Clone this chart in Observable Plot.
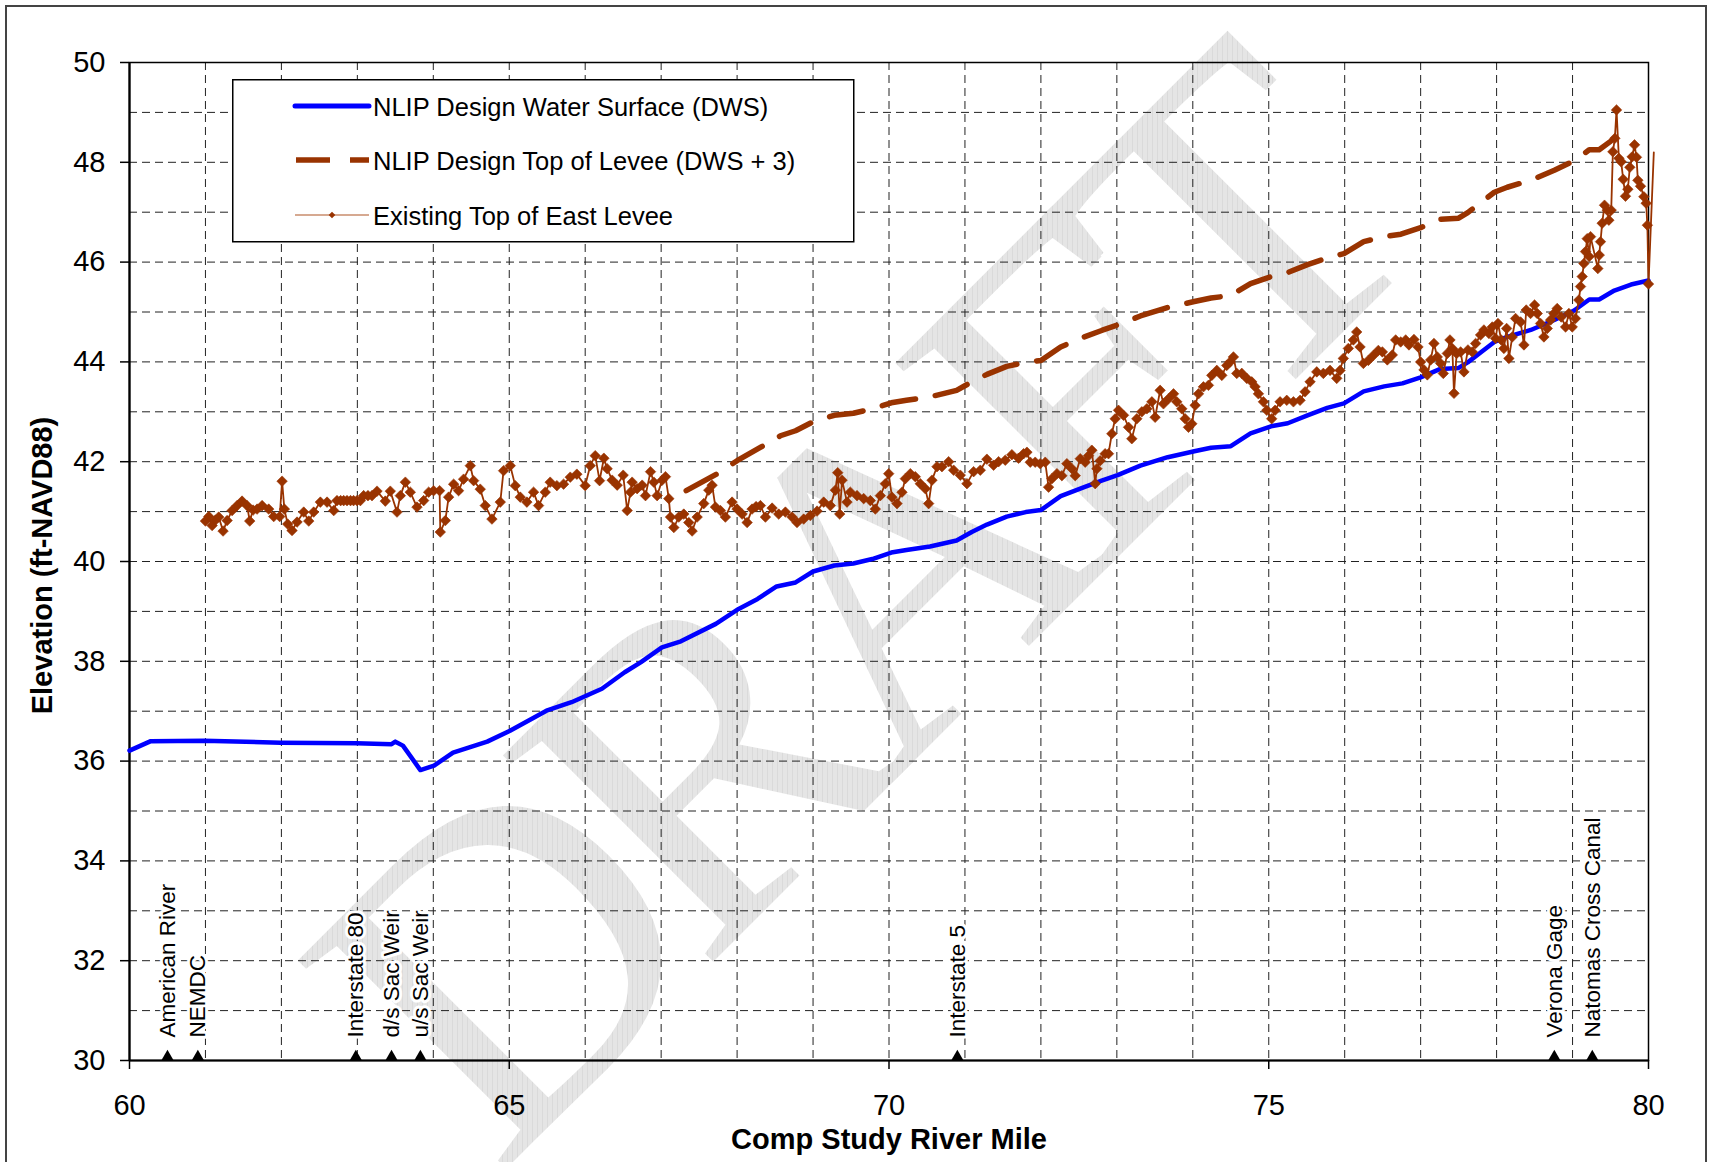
<!DOCTYPE html>
<html>
<head>
<meta charset="utf-8">
<script src="https://cdn.jsdelivr.net/npm/d3@7"></script>
<script src="https://cdn.jsdelivr.net/npm/@observablehq/plot@0.6"></script>
<style>
  html, body { margin: 0; padding: 0; background: #fff; }
  #wrap { position: relative; width: 1711px; height: 1162px; overflow: hidden; font-family: "Liberation Sans", Arial, sans-serif; background: #fff; }
  #wm { position: absolute; left: 0; top: 0; }
  #chart { position: absolute; left: 0; top: 0; }
  #legend { position: absolute; left: 232px; top: 79px; }
  #border { position: absolute; left: 5px; top: 5px; width: 1702px; height: 1300px; border: 2px solid #444; box-sizing: border-box; pointer-events: none; }
</style>
</head>
<body>
<div id="wrap">
  <svg id="wm" width="1711" height="1162">
    <defs>
      <pattern id="hatch" width="5" height="5" patternUnits="userSpaceOnUse" patternTransform="rotate(45)">
        <rect width="5" height="5" fill="#e5e5e5"></rect>
        <path d="M0.5,0V5" stroke="#dadada" stroke-width="1"></path>
      </pattern>
    </defs>
    <text id="wmtext" font-family="'Liberation Serif', 'Times New Roman', serif" font-size="450" letter-spacing="-35" fill="url(#hatch)" transform="translate(497,1178) rotate(-45)"></text>
  </svg>
  <div id="chart"></div>
  <svg id="legend" width="623" height="164"></svg>
  <div id="border"></div>
</div>
<script>
// ---------------- DATA ----------------
const watermarkText = "DRAFT";

const seriesNames = [
  "NLIP Design Water Surface (DWS)",
  "NLIP Design Top of Levee (DWS + 3)",
  "Existing Top of East Levee"
];
const seriesColors = ["#0000ff", "#993300", "#993300"];

// NLIP Design Water Surface (DWS)
const dwsMile = [60.0, 60.28, 60.98, 61.99, 62.99, 63.45, 63.50, 63.60, 63.83, 64.01, 64.26, 64.71, 65.01, 65.49, 65.82, 66.22, 66.52, 66.73, 67.01, 67.26, 67.72, 68.02, 68.27, 68.52, 68.77, 69.0, 69.28, 69.53, 69.78, 70.03, 70.23, 70.54, 70.89, 71.09, 71.29, 71.55, 71.80, 72.0, 72.26, 72.57, 72.80, 73.01, 73.31, 73.67, 74.02, 74.24, 74.50, 74.76, 75.03, 75.25, 75.51, 75.77, 75.99, 76.25, 76.52, 76.76, 77.0, 77.26, 77.50, 77.62, 77.79, 77.97, 78.14, 78.45, 78.76, 79.02, 79.22, 79.35, 79.55, 79.77, 80.0];
const dwsElev = [36.21, 36.40, 36.41, 36.37, 36.36, 36.34, 36.39, 36.31, 35.82, 35.91, 36.17, 36.39, 36.61, 37.01, 37.18, 37.45, 37.78, 37.98, 38.28, 38.40, 38.75, 39.05, 39.25, 39.50, 39.58, 39.80, 39.92, 39.96, 40.05, 40.18, 40.23, 40.30, 40.42, 40.59, 40.74, 40.90, 40.99, 41.03, 41.31, 41.49, 41.62, 41.73, 41.92, 42.09, 42.21, 42.28, 42.31, 42.57, 42.71, 42.77, 42.93, 43.08, 43.17, 43.41, 43.51, 43.57, 43.69, 43.86, 43.88, 43.99, 44.19, 44.40, 44.50, 44.64, 44.84, 45.03, 45.25, 45.25, 45.43, 45.55, 45.63];

// NLIP Design Top of Levee (DWS + 3)
const designMile = [67.33, 67.74, 68.0, 68.3, 68.57, 68.77, 69.0, 69.28, 69.53, 69.78, 70.03, 70.23, 70.54, 70.89, 71.09, 71.29, 71.55, 71.80, 72.0, 72.26, 72.57, 72.8, 73.01, 73.31, 73.67, 74.02, 74.24, 74.5, 74.76, 75.03, 75.25, 75.51, 75.77, 75.99, 76.25, 76.52, 76.74, 77.0, 77.26, 77.5, 77.62, 77.79, 77.97, 78.14, 78.45, 78.76, 79.02, 79.22, 79.35, 79.5];
const designElev = [41.42, 41.76, 42.02, 42.28, 42.52, 42.62, 42.80, 42.93, 42.97, 43.06, 43.18, 43.23, 43.30, 43.43, 43.60, 43.75, 43.91, 43.99, 44.03, 44.30, 44.50, 44.63, 44.74, 44.92, 45.09, 45.21, 45.28, 45.33, 45.57, 45.71, 45.79, 45.95, 46.08, 46.17, 46.41, 46.51, 46.56, 46.69, 46.86, 46.88, 46.99, 47.19, 47.40, 47.50, 47.64, 47.84, 48.03, 48.25, 48.25, 48.42];

// Existing Top of East Levee
const leveeMile = [
  61.000, 61.044, 61.088, 61.132, 61.175, 61.232, 61.285, 61.351, 61.417, 61.482, 61.548, 61.583, 61.627, 61.680, 61.746, 61.833, 61.899, 61.978, 62.009, 62.039,
  62.083, 62.140, 62.206, 62.294, 62.360, 62.425, 62.513, 62.601, 62.689, 62.732, 62.78, 62.82, 62.864, 62.91, 62.95, 62.996, 63.04, 63.083, 63.14, 63.193,
  63.259, 63.368, 63.434, 63.522, 63.566, 63.632, 63.697, 63.785, 63.873, 63.939, 64.004, 64.083, 64.092, 64.158, 64.202, 64.268, 64.333, 64.399, 64.487, 64.531,
  64.618, 64.684, 64.772, 64.882, 64.925, 65.013, 65.079, 65.145, 65.232, 65.320, 65.386, 65.474, 65.539, 65.627, 65.715, 65.803, 65.890, 66.000, 66.066, 66.132,
  66.189, 66.246, 66.289, 66.355, 66.421, 66.500, 66.553, 66.596, 66.618, 66.684, 66.750, 66.794, 66.860, 66.904, 66.947, 67.013, 67.057, 67.101, 67.123, 67.167,
  67.232, 67.298, 67.364, 67.408, 67.474, 67.561, 67.627, 67.671, 67.715, 67.781, 67.846, 67.934, 68.000, 68.066, 68.132, 68.197, 68.25, 68.307, 68.373, 68.461,
  68.548, 68.636, 68.724, 68.789, 68.877, 68.965, 69.053, 69.140, 69.228, 69.294, 69.325, 69.351, 69.382, 69.447, 69.491, 69.579, 69.667, 69.754, 69.820, 69.886,
  69.952, 69.996, 70.039, 70.105, 70.171, 70.215, 70.281, 70.346, 70.412, 70.478, 70.522, 70.566, 70.632, 70.697, 70.785, 70.851, 70.939, 71.026, 71.114, 71.202,
  71.289, 71.377, 71.443, 71.531, 71.618, 71.706, 71.772, 71.816, 71.860, 71.925, 71.991, 72.057, 72.101, 72.145, 72.211, 72.276, 72.342, 72.408, 72.452, 72.518,
  72.583, 72.627, 72.671, 72.715, 72.737, 72.781, 72.846, 72.890, 72.934, 72.978, 73.022, 73.088, 73.154, 73.197, 73.263, 73.329, 73.395, 73.461, 73.504, 73.570,
  73.614, 73.680, 73.746, 73.789, 73.855, 73.899, 73.943, 73.987, 74.031, 74.075, 74.140, 74.206, 74.250, 74.316, 74.382, 74.447, 74.491, 74.535, 74.579, 74.645,
  74.711, 74.776, 74.820, 74.864, 74.930, 74.974, 75.039, 75.083, 75.149, 75.237, 75.325, 75.412, 75.478, 75.544, 75.632, 75.719, 75.807, 75.895, 75.939, 75.982,
  76.048, 76.114, 76.158, 76.202, 76.246, 76.311, 76.377, 76.443, 76.496, 76.561, 76.627, 76.671, 76.737, 76.803, 76.846, 76.912, 76.965, 77.000, 77.044, 77.088,
  77.132, 77.175, 77.219, 77.263, 77.298, 77.351, 77.386, 77.417, 77.439, 77.474, 77.526, 77.570, 77.623, 77.680, 77.724, 77.789, 77.833, 77.899, 77.943, 77.987,
  78.018, 78.061, 78.096, 78.132, 78.162, 78.206, 78.250, 78.316, 78.360, 78.390, 78.447, 78.500, 78.535, 78.579, 78.623, 78.667, 78.711, 78.754, 78.798, 78.851,
  78.908, 78.952, 78.996, 79.039, 79.083, 79.105, 79.127, 79.149, 79.171, 79.193, 79.219, 79.237, 79.333, 79.351, 79.368, 79.390, 79.421, 79.456, 79.478, 79.509,
  79.531, 79.557, 79.579, 79.610, 79.640, 79.667, 79.697, 79.728, 79.754, 79.785, 79.816, 79.842, 79.860, 79.895, 79.939, 79.969, 79.985, 80.0, 80.07
];
const leveeElev = [
  40.81, 40.90, 40.72, 40.83, 40.89, 40.61, 40.82, 41.02, 41.12, 41.21, 41.12, 40.81, 41.03, 41.05, 41.12, 41.05, 40.90, 40.90, 41.61, 41.05,
  40.75, 40.62, 40.79, 40.99, 40.81, 40.99, 41.19, 41.19, 41.02, 41.22, 41.22, 41.22, 41.22, 41.22, 41.22, 41.22, 41.22, 41.32, 41.32, 41.32,
  41.41, 41.21, 41.41, 40.99, 41.32, 41.59, 41.39, 41.09, 41.22, 41.39, 41.42, 41.42, 40.59, 40.82, 41.29, 41.55, 41.42, 41.65, 41.92, 41.62,
  41.45, 41.12, 40.85, 41.19, 41.82, 41.92, 41.52, 41.29, 41.19, 41.39, 41.12, 41.39, 41.59, 41.52, 41.55, 41.69, 41.75, 41.52, 41.92, 42.12,
  41.62, 42.07, 41.86, 41.63, 41.53, 41.73, 41.02, 41.39, 41.59, 41.46, 41.53, 41.32, 41.80, 41.59, 41.32, 41.63, 41.70, 41.26, 40.89, 40.68,
  40.89, 40.95, 40.78, 40.61, 40.89, 41.16, 41.43, 41.53, 41.09, 41.02, 40.89, 41.19, 41.05, 40.95, 40.78, 41.05, 41.10, 41.12, 40.89, 41.07,
  40.95, 40.99, 40.89, 40.78, 40.85, 40.92, 41.01, 41.19, 41.12, 41.43, 41.78, 40.95, 41.63, 41.19, 41.39, 41.32, 41.26, 41.22, 41.05, 41.32,
  41.56, 41.76, 41.29, 41.16, 41.39, 41.66, 41.76, 41.70, 41.56, 41.46, 41.16, 41.63, 41.90, 41.90, 42.00, 41.83, 41.73, 41.56, 41.80, 41.83,
  42.05, 41.93, 42.00, 42.03, 42.14, 42.07, 42.16, 42.19, 41.99, 41.99, 41.96, 41.99, 41.49, 41.66, 41.76, 41.72, 41.96, 41.86, 41.72, 42.06,
  41.99, 42.12, 42.23, 41.56, 41.86, 42.02, 42.16, 42.16, 42.56, 42.86, 43.03, 42.93, 42.69, 42.46, 42.86, 43.00, 43.06, 43.20, 42.89, 43.43,
  43.16, 43.26, 43.36, 43.20, 43.06, 42.86, 42.69, 42.76, 43.13, 43.36, 43.50, 43.53, 43.73, 43.83, 43.73, 43.93, 44.00, 44.10, 43.77, 43.77,
  43.67, 43.60, 43.50, 43.36, 43.20, 43.03, 42.86, 43.03, 43.20, 43.23, 43.20, 43.23, 43.40, 43.60, 43.80, 43.77, 43.83, 43.67, 43.83, 44.07,
  44.27, 44.44, 44.60, 44.30, 43.97, 44.03, 44.13, 44.23, 44.20, 44.04, 44.14, 44.44, 44.40, 44.44, 44.34, 44.45, 44.30, 44.00, 43.84, 43.74,
  44.04, 44.37, 44.10, 43.97, 43.77, 44.17, 44.44, 44.27, 43.37, 44.17, 44.20, 43.80, 44.24, 44.20, 44.37, 44.54, 44.64, 44.57, 44.70, 44.47,
  44.77, 44.44, 44.27, 44.67, 44.07, 44.50, 44.87, 44.80, 44.34, 45.04, 44.97, 45.14, 44.97, 44.77, 44.50, 44.67, 44.84, 44.97, 45.07, 44.90,
  44.70, 44.97, 44.70, 44.87, 45.24, 45.51, 45.71, 45.97, 46.21, 46.47, 46.11, 46.51, 45.87, 46.14, 46.41, 46.78, 47.14, 47.04, 46.84, 47.04,
  48.21, 48.48, 49.05, 48.08, 48.01, 47.66, 47.32, 47.46, 47.90, 48.11, 48.35, 48.10, 47.64, 47.52, 47.31, 47.18, 46.74, 45.56, 48.20
];

// Landmarks along the river
const landmarkNames = ["American River", "NEMDC", "Interstate 80", "d/s Sac Weir", "u/s Sac Weir", "Interstate 5", "Verona Gage", "Natomas Cross Canal"];
const landmarkMiles = [60.5, 60.9, 62.98, 63.45, 63.83, 70.9, 78.76, 79.26];

// Axes
const xDomain = [60, 80];
const yDomain = [30, 50];
const xTickValues = [60, 65, 70, 75, 80];
const yTickValues = [30, 32, 34, 36, 38, 40, 42, 44, 46, 48, 50];
const xGridValues = [61, 62, 63, 64, 65, 66, 67, 68, 69, 70, 71, 72, 73, 74, 75, 76, 77, 78, 79];
const yGridValues = [31, 32, 33, 34, 35, 36, 37, 38, 39, 40, 41, 42, 43, 44, 45, 46, 47, 48, 49];
const xTitle = "Comp Study River Mile";
const yTitle = "Elevation (ft-NAVD88)";

// ---------------- TABLES ----------------
const dws = dwsMile.map((m, i) => ({mile: m, elev: dwsElev[i]}));
const design = designMile.map((m, i) => ({mile: m, elev: designElev[i]}));
const levee = leveeMile.map((m, i) => ({mile: m, elev: leveeElev[i]}));
const leveeMarkers = levee.filter(d => d.mile <= xDomain[1]);
const landmarks = landmarkNames.map((n, i) => ({name: n, mile: landmarkMiles[i], base: yDomain[0]}));

const FONT = "'Liberation Sans', Arial, Helvetica, sans-serif";
const gridStyle = {stroke: "#222", strokeOpacity: 1, strokeWidth: 1, strokeDasharray: "8,5"};
const plainFormat = d => String(d);

// diamond marker symbol (square turned 45 degrees)
const diamondSymbol = {
  draw(context, size) {
    const h = Math.sqrt(size / 2);
    context.moveTo(0, -h);
    context.lineTo(h, 0);
    context.lineTo(0, h);
    context.lineTo(-h, 0);
    context.closePath();
  }
};

const chart = Plot.plot({
  width: 1711,
  height: 1162,
  marginLeft: 129,
  marginRight: 63,
  marginTop: 62,
  marginBottom: 102,
  style: {background: "transparent", fontFamily: FONT, overflow: "visible", color: "#000"},
  x: {domain: xDomain, label: null},
  y: {domain: yDomain, label: null},
  marks: [
    Plot.gridX(xGridValues, gridStyle),
    Plot.gridY(yGridValues, gridStyle),
    Plot.frame({stroke: "#000", strokeWidth: 1.5}),
    Plot.ruleY([yDomain[0]], {stroke: "#000", strokeWidth: 2.2}),
    Plot.ruleX([xDomain[0]], {stroke: "#000", strokeWidth: 2.2}),
    Plot.axisX(xTickValues, {tickSize: 9, tickPadding: 25, fontSize: 29, label: null, strokeWidth: 1.5, tickFormat: plainFormat}),
    Plot.axisY(yTickValues, {tickSize: 9, tickPadding: 15, fontSize: 29, label: null, strokeWidth: 1.5, tickFormat: plainFormat}),
    Plot.line(dws, {x: "mile", y: "elev", stroke: seriesColors[0], strokeWidth: 4.5, curve: "linear"}),
    Plot.line(design, {x: "mile", y: "elev", stroke: seriesColors[1], strokeWidth: 5.5, strokeDasharray: "34,20", curve: "linear"}),
    Plot.line(levee, {x: "mile", y: "elev", stroke: seriesColors[2], strokeWidth: 1.8}),
    Plot.dot(leveeMarkers, {x: "mile", y: "elev", symbol: diamondSymbol, r: 4.2, fill: seriesColors[2], stroke: seriesColors[2], strokeWidth: 0.6}),
    Plot.dot(landmarks, {x: "mile", y: "base", symbol: "triangle", r: 4.6, fill: "#000", dy: -3.6}),
    Plot.text(landmarks, {x: "mile", y: "base", text: "name", rotate: -90, textAnchor: "start", lineAnchor: "middle", dy: -23, fontSize: 22.5, fill: "#000", stroke: "#fff", strokeWidth: 6}),
    Plot.text([yTitle], {frameAnchor: "left", textAnchor: "middle", lineAnchor: "middle", dx: -87, dy: 4, rotate: -90, fontSize: 29, fontWeight: "bold", fill: "#000"}),
    Plot.text([xTitle], {frameAnchor: "bottom", textAnchor: "middle", lineAnchor: "middle", dy: 79, fontSize: 29, fontWeight: "bold", fill: "#000"})
  ]
});
document.getElementById("chart").appendChild(chart);

// watermark
document.getElementById("wmtext").textContent = watermarkText;

// ---------------- LEGEND ----------------
const lg = d3.select("#legend");
lg.append("rect").attr("x", 0.75).attr("y", 0.75).attr("width", 621).attr("height", 162)
  .attr("fill", "#fff").attr("stroke", "#000").attr("stroke-width", 1.5);
const rowY = [27, 81, 136];
const sx0 = 63, sx1 = 137;
lg.append("line").attr("x1", sx0).attr("x2", sx1).attr("y1", rowY[0]).attr("y2", rowY[0])
  .attr("stroke", seriesColors[0]).attr("stroke-width", 5).attr("stroke-linecap", "round");
lg.append("line").attr("x1", sx0 + 1).attr("x2", sx1).attr("y1", rowY[1]).attr("y2", rowY[1])
  .attr("stroke", seriesColors[1]).attr("stroke-width", 5.5).attr("stroke-dasharray", "34,20");
lg.append("line").attr("x1", sx0).attr("x2", sx1).attr("y1", rowY[2]).attr("y2", rowY[2])
  .attr("stroke", "#c98c6c").attr("stroke-width", 1.6);
lg.append("path").attr("d", d3.symbol(d3.symbolSquare, 22)()).attr("transform", `translate(${(sx0 + sx1) / 2},${rowY[2]}) rotate(45)`)
  .attr("fill", seriesColors[2]);
seriesNames.forEach((name, i) => {
  lg.append("text").attr("x", 141).attr("y", rowY[i] + 9.5).attr("font-family", FONT).attr("font-size", 25.5)
    .attr("fill", "#000").text(name);
});
</script>
</body>
</html>
